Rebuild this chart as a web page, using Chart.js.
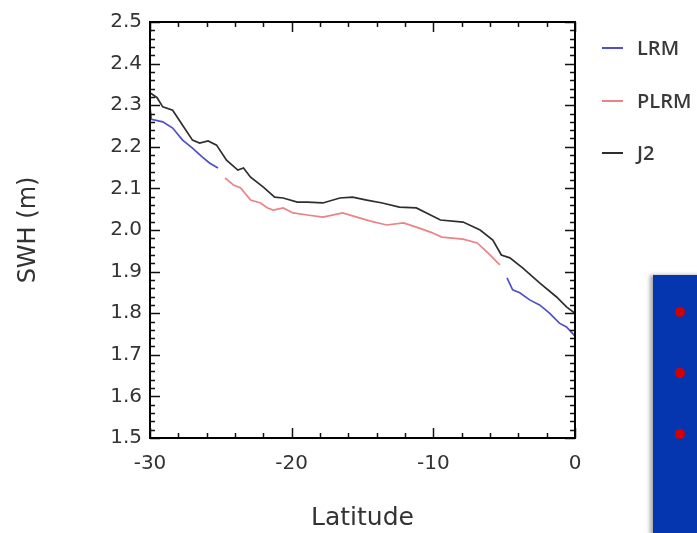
<!DOCTYPE html>
<html>
<head>
<meta charset="utf-8">
<script src="https://cdn.jsdelivr.net/npm/chart.js@4/dist/chart.umd.min.js"></script>
<style>
  html, body { margin: 0; padding: 0; background: #fff; }
  #wrap { position: relative; width: 697px; height: 533px; overflow: hidden; }
  #chart { position: absolute; left: 0; top: 0; }
  .leg { position: absolute; left: 602px; font: 600 20px "Open Sans", sans-serif; color: #3a3a3a; }
  .leg span.ln { position: absolute; left: 0; top: 13px; width: 21px; height: 2px; }
  .leg span.tx { position: absolute; left: 35px; top: 0; white-space: nowrap; }
  #panel { position: absolute; left: 653px; top: 275px; width: 60px; height: 260px; background: #0536b0; box-shadow: -3px 0 4px rgba(0,0,0,0.35); }
  .dot { position: absolute; left: 22px; width: 10px; height: 10px; border-radius: 50%; background: #d40000; }
</style>
</head>
<body>
<div id="wrap">
  <canvas id="chart" width="697" height="533"></canvas>
  <div id="legend"></div>
  <div id="panel">
    <div class="dot" style="top:32px"></div>
    <div class="dot" style="top:93px"></div>
    <div class="dot" style="top:154px"></div>
  </div>
</div>
<script>
// latitude / SWH values
const j2Lat = [-30, -29.5, -29.1, -28.4, -27.7, -27.0, -26.5, -25.9, -25.3, -24.6, -23.8, -23.4, -22.9, -22.0, -21.2, -20.6, -19.6, -18.9, -17.8, -16.6, -15.7, -14.7, -13.6, -12.4, -11.2, -10.2, -9.5, -7.9, -6.7, -5.8, -5.2, -4.6, -3.7, -2.5, -1.3, -0.6, 0];
const j2Swh = [2.33, 2.318, 2.296, 2.288, 2.252, 2.216, 2.209, 2.214, 2.204, 2.168, 2.144, 2.149, 2.127, 2.103, 2.079, 2.077, 2.067, 2.067, 2.065, 2.077, 2.079, 2.072, 2.065, 2.055, 2.053, 2.036, 2.024, 2.019, 2.0, 1.976, 1.94, 1.933, 1.909, 1.873, 1.839, 1.815, 1.80];

const lrmLat = [-30, -29.9, -29.1, -28.4, -27.7, -27.0, -26.3, -25.8, -25.2, -15, -4.8, -4.4, -3.9, -3.2, -2.5, -1.8, -1.1, -0.6, 0];
const lrmSwh = [2.295, 2.266, 2.26, 2.245, 2.216, 2.197, 2.175, 2.161, 2.149, null, 1.885, 1.856, 1.849, 1.832, 1.82, 1.80, 1.776, 1.767, 1.745];

const plrmLat = [-24.7, -24.1, -23.6, -22.9, -22.2, -21.7, -21.3, -20.6, -19.9, -18.9, -17.8, -16.4, -15.4, -14.5, -13.3, -12.1, -11.2, -10.2, -9.4, -7.9, -6.9, -6.2, -5.5, -5.3];
const plrmSwh = [2.125, 2.108, 2.101, 2.072, 2.065, 2.053, 2.048, 2.053, 2.041, 2.036, 2.031, 2.041, 2.031, 2.022, 2.012, 2.017, 2.007, 1.995, 1.983, 1.978, 1.969, 1.947, 1.923, 1.916];

const seriesNames = ['LRM', 'PLRM', 'J2'];
const seriesColors = ['#4f4fc6', '#ec8286', '#2e2e2e'];

const xMin = -30, xMax = 0, yMin = 1.5, yMax = 2.5;

const toPoints = (lat, swh) => lat.map((x, i) => ({ x, y: swh[i] }));

// inward ticks + box frame, like the original plot
const frameTicks = {
  id: 'frameTicks',
  afterDraw(chart) {
    const { ctx, chartArea: a, scales: { x, y } } = chart;
    ctx.save();
    ctx.strokeStyle = '#111';
    ctx.lineWidth = 1.5;
    ctx.beginPath();
    for (let i = 0; i <= 15; i++) {
      const px = Math.round(x.getPixelForValue(xMin + i * 2)) + 0.5;
      const len = (i % 5 === 0) ? 10 : 5;
      ctx.moveTo(px, a.bottom); ctx.lineTo(px, a.bottom - len);
      ctx.moveTo(px, a.top); ctx.lineTo(px, a.top + len);
    }
    for (let i = 0; i <= 50; i++) {
      const py = Math.round(y.getPixelForValue(yMin + i * 0.02)) + 0.5;
      const len = (i % 5 === 0) ? 10 : 5;
      ctx.moveTo(a.left, py); ctx.lineTo(a.left + len, py);
      ctx.moveTo(a.right, py); ctx.lineTo(a.right - len, py);
    }
    ctx.stroke();
    ctx.lineWidth = 2;
    ctx.strokeStyle = '#000';
    ctx.strokeRect(a.left, a.top, a.right - a.left, a.bottom - a.top);
    ctx.restore();
  }
};

new Chart(document.getElementById('chart'), {
  type: 'line',
  data: {
    datasets: [
      { label: seriesNames[0], data: toPoints(lrmLat, lrmSwh), borderColor: seriesColors[0] },
      { label: seriesNames[1], data: toPoints(plrmLat, plrmSwh), borderColor: seriesColors[1] },
      { label: seriesNames[2], data: toPoints(j2Lat, j2Swh), borderColor: seriesColors[2] }
    ].map(ds => Object.assign(ds, { borderWidth: 1.7, pointRadius: 0, tension: 0, spanGaps: false, fill: false }))
  },
  options: {
    responsive: false,
    animation: false,
    layout: { padding: { left: 14, top: 22, right: 122, bottom: 0 } },
    plugins: { legend: { display: false }, tooltip: { enabled: false } },
    scales: {
      x: {
        type: 'linear', min: xMin, max: xMax,
        grid: { display: false, drawTicks: false },
        border: { display: false },
        ticks: { stepSize: 10, padding: 14, color: '#333', font: { family: 'DejaVu Sans', size: 20 } },
        title: { display: true, text: 'Latitude', color: '#333', padding: 0, font: { family: 'DejaVu Sans', size: 25 } },
        afterFit: s => { s.height = 95; }
      },
      y: {
        type: 'linear', min: yMin, max: yMax,
        grid: { display: false, drawTicks: false },
        border: { display: false },
        ticks: { stepSize: 0.1, padding: 8, color: '#333', font: { family: 'DejaVu Sans', size: 20 },
          callback: v => Number(v).toFixed(1) },
        title: { display: true, text: 'SWH (m)', color: '#333', padding: 0, font: { family: 'DejaVu Sans', size: 24 } },
        afterFit: s => { s.width = 136; }
      }
    }
  },
  plugins: [frameTicks]
});

// legend to the right of the plot
const legendTops = [34, 87, 139];
document.getElementById('legend').innerHTML = seriesNames.map((n, i) =>
  `<div class="leg" style="top:${legendTops[i]}px"><span class="ln" style="background:${seriesColors[i]}"></span><span class="tx">${n}</span></div>`
).join('');
</script>
</body>
</html>
